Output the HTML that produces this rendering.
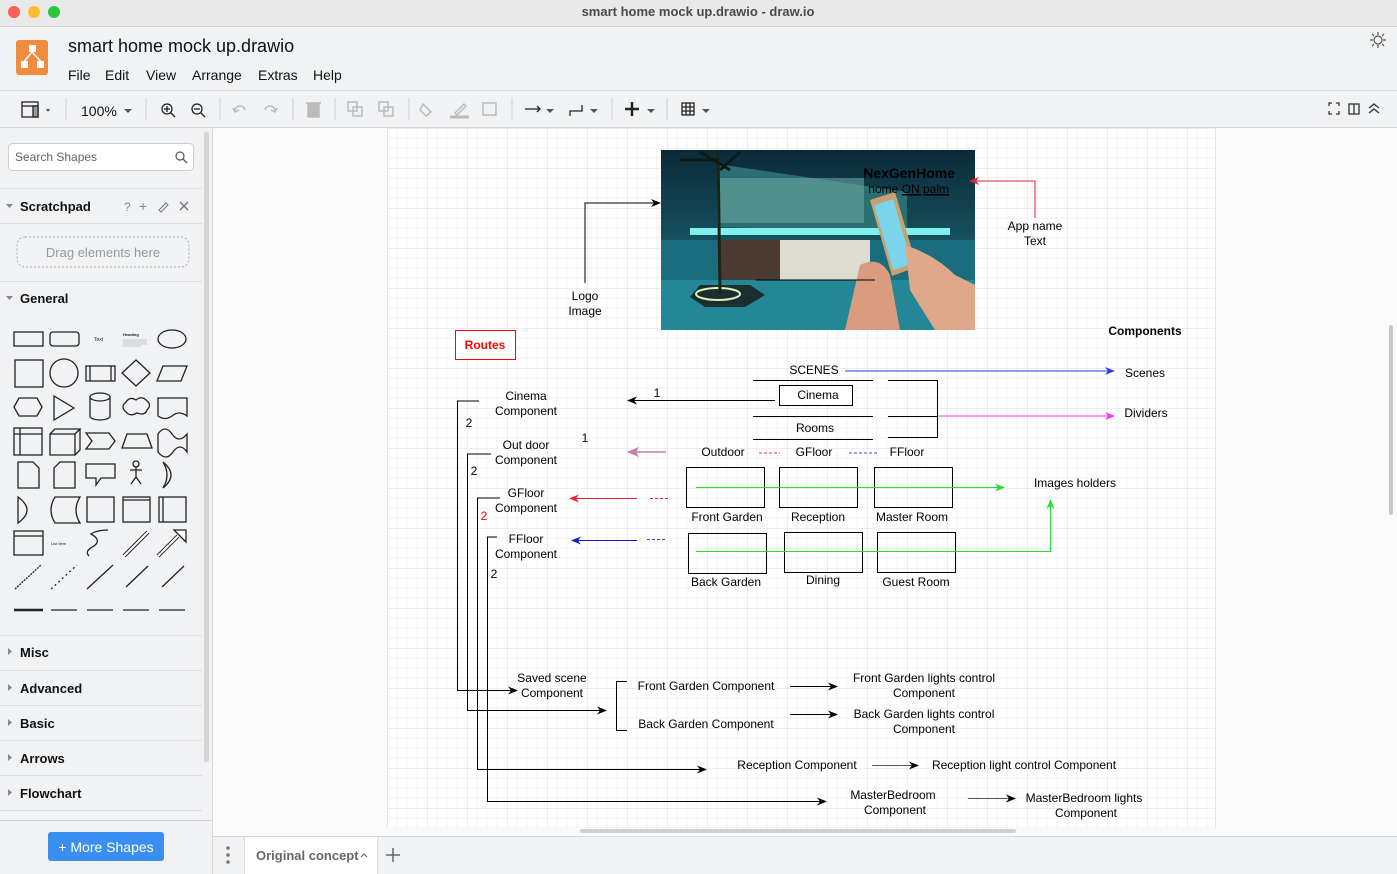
<!DOCTYPE html>
<html><head><meta charset="utf-8"><style>
html,body{margin:0;padding:0;width:1397px;height:874px;overflow:hidden;background:#fff;font-family:"Liberation Sans",Arial,sans-serif}
svg{display:block}
</style></head><body>
<svg width="1397" height="874" viewBox="0 0 1397 874" xmlns="http://www.w3.org/2000/svg" font-family="Liberation Sans, Arial, sans-serif">
<defs>
<pattern id="g" x="387" y="128" width="40" height="40" patternUnits="userSpaceOnUse">
<path d="M10 0V40M20 0V40M30 0V40M0 10H40M0 20H40M0 30H40" stroke="#f0f0f0" stroke-width="1"/>
<path d="M0 0V40M0 0H40" stroke="#dedede" stroke-width="1"/>
</pattern>
<marker id="ab" markerWidth="10" markerHeight="8" refX="9" refY="4" orient="auto" markerUnits="userSpaceOnUse"><path d="M0 0L10 4L0 8L3 4Z" fill="#000"/></marker>
<marker id="ar" markerWidth="10" markerHeight="8" refX="9" refY="4" orient="auto" markerUnits="userSpaceOnUse"><path d="M0 0L10 4L0 8L3 4Z" fill="#f0203a"/></marker>
<marker id="abl" markerWidth="10" markerHeight="8" refX="9" refY="4" orient="auto" markerUnits="userSpaceOnUse"><path d="M0 0L10 4L0 8L3 4Z" fill="#2a3ef0"/></marker>
<marker id="abd" markerWidth="10" markerHeight="8" refX="9" refY="4" orient="auto" markerUnits="userSpaceOnUse"><path d="M0 0L10 4L0 8L3 4Z" fill="#1020c0"/></marker>
<marker id="am" markerWidth="10" markerHeight="8" refX="9" refY="4" orient="auto" markerUnits="userSpaceOnUse"><path d="M0 0L10 4L0 8L3 4Z" fill="#ff33ff"/></marker>
<marker id="ag" markerWidth="10" markerHeight="8" refX="9" refY="4" orient="auto" markerUnits="userSpaceOnUse"><path d="M0 0L10 4L0 8L3 4Z" fill="#22dd33"/></marker>
<marker id="ap" markerWidth="12" markerHeight="10" refX="11" refY="5" orient="auto" markerUnits="userSpaceOnUse"><path d="M0 0L12 5L0 10L3 5Z" fill="#c080a8"/></marker>
<linearGradient id="sky" x1="0" y1="0" x2="0" y2="1"><stop offset="0" stop-color="#0b2a38"/><stop offset="0.5" stop-color="#17505e"/><stop offset="1" stop-color="#1b7f8e"/></linearGradient>
</defs>

<!-- title bar -->
<rect x="0" y="0" width="1397" height="27" fill="#e9e9e9"/>
<line x1="0" y1="26.5" x2="1397" y2="26.5" stroke="#d0d0d0"/>
<circle cx="14" cy="12" r="6" fill="#fe5f57"/><circle cx="34" cy="12" r="6" fill="#febc2e"/><circle cx="54" cy="12" r="6" fill="#28c840"/>
<text x="698" y="16" font-size="13" font-weight="bold" fill="#4a4a4a" text-anchor="middle">smart home mock up.drawio - draw.io</text>
<!-- header -->
<rect x="0" y="27" width="1397" height="63" fill="#f1f2f4"/>
<rect x="16" y="40" width="32" height="35" rx="3" fill="#f08c3e"/>
<rect x="29" y="45" width="7" height="7" fill="#fff"/><rect x="21" y="61" width="7" height="7" fill="#fff"/><rect x="37" y="61" width="7" height="7" fill="#fff"/>
<path d="M32 52L24.5 61M32 52L40.5 61" stroke="#fff" stroke-width="1.5"/>
<text x="68" y="52" font-size="18" fill="#111">smart home mock up.drawio</text>
<g font-size="14" fill="#111"><text x="68" y="80">File</text><text x="105" y="80">Edit</text><text x="146" y="80">View</text><text x="192" y="80">Arrange</text><text x="258" y="80">Extras</text><text x="313" y="80">Help</text></g>
<circle cx="1378" cy="40" r="4" fill="none" stroke="#555" stroke-width="1.2"/>
<path d="M1378 32v3M1378 45v3M1370 40h3M1383 40h3M1372 34l2 2M1382 44l2 2M1372 46l2-2M1382 36l2-2" stroke="#555" stroke-width="1.2"/>
<!-- toolbar -->
<rect x="0" y="90" width="1397" height="38" fill="#f1f2f4"/>
<line x1="0" y1="90.5" x2="1397" y2="90.5" stroke="#dcdcdc"/>
<line x1="0" y1="127.5" x2="1397" y2="127.5" stroke="#d4d4d4"/>
<g stroke="#222" fill="none" stroke-width="1.3">
<rect x="22" y="102" width="16" height="15"/><line x1="22" y1="106" x2="38" y2="106"/><rect x="33" y="106" width="5" height="11" fill="#999"/>
<circle cx="167" cy="109" r="5"/><line x1="171" y1="113" x2="175" y2="117"/><line x1="164" y1="109" x2="170" y2="109"/><line x1="167" y1="106" x2="167" y2="112"/>
<circle cx="197" cy="109" r="5"/><line x1="201" y1="113" x2="205" y2="117"/><line x1="194" y1="109" x2="200" y2="109"/>
</g>
<g fill="#555"><path d="M46 109l4 0-2 3z"/><path d="M124 109l8 0-4 4z"/><path d="M546 109l8 0-4 4z"/><path d="M590 109l8 0-4 4z"/><path d="M647 109l8 0-4 4z"/><path d="M702 109l8 0-4 4z"/></g>
<text x="81" y="116" font-size="14" fill="#111">100%</text>
<g stroke="#bbb" fill="none" stroke-width="1.5">
<path d="M235 112a5 5 0 0 1 10 -2M233 108l2 4 4-2"/><path d="M275 112a5 5 0 0 0 -10 -2M277 108l-2 4-4-2"/>
<rect x="308" y="104" width="11" height="13" fill="#bbb"/><line x1="306" y1="103" x2="321" y2="103"/>
<rect x="348" y="102" width="9" height="9"/><rect x="353" y="107" width="9" height="9"/>
<rect x="379" y="102" width="9" height="9"/><rect x="384" y="107" width="9" height="9"/>
<path d="M423 104l8 8-5 4-6-6z"/><line x1="450" y1="117" x2="469" y2="117" stroke-width="3"/><path d="M455 113l9-9 2 2-9 9z"/>
<rect x="483" y="103" width="13" height="12"/>
</g>
<g stroke="#222" fill="none" stroke-width="1.3"><line x1="525" y1="109" x2="540" y2="109"/><path d="M537 106l3 3-3 3"/>
<path d="M570 116v-5h12v-6"/><line x1="632" y1="102" x2="632" y2="116" stroke-width="2.5"/><line x1="625" y1="109" x2="639" y2="109" stroke-width="2.5"/>
<rect x="682" y="103" width="12" height="12"/><path d="M686 103v12M690 103v12M682 107h12M682 111h12"/></g>
<g stroke="#d0d0d0"><line x1="66" y1="98" x2="66" y2="120"/><line x1="146" y1="98" x2="146" y2="120"/><line x1="220" y1="98" x2="220" y2="120"/><line x1="293" y1="98" x2="293" y2="120"/><line x1="335" y1="98" x2="335" y2="120"/><line x1="409" y1="98" x2="409" y2="120"/><line x1="512" y1="98" x2="512" y2="120"/><line x1="612" y1="98" x2="612" y2="120"/><line x1="667" y1="98" x2="667" y2="120"/></g>
<g stroke="#333" fill="none" stroke-width="1.3"><path d="M1329 106v-3h3M1336 103h3v3M1339 111v3h-3M1332 114h-3v-3"/><rect x="1349" y="104" width="10" height="10"/><line x1="1354" y1="104" x2="1354" y2="114"/><path d="M1369 108l5-4 5 4M1369 113l5-4 5 4"/></g>

<!-- sidebar -->
<rect x="0" y="128" width="212" height="746" fill="#f1f2f4"/>
<rect x="204" y="132" width="5" height="630" rx="2" fill="#d6d6d6"/>
<line x1="212.5" y1="128" x2="212.5" y2="874" stroke="#d8d8d8"/>
<rect x="8.5" y="143.5" width="185" height="27" rx="4" fill="#fff" stroke="#ccc"/>
<text x="15" y="161" font-size="12" fill="#666">Search Shapes</text>
<circle cx="180" cy="156" r="4" fill="none" stroke="#555" stroke-width="1.2"/><line x1="183" y1="159" x2="187" y2="163" stroke="#555" stroke-width="1.3"/>
<line x1="0" y1="188.5" x2="202" y2="188.5" stroke="#dcdcdc"/>
<path d="M6 204l7 0-3.5 4z" fill="#888"/>
<text x="20" y="211" font-size="13" font-weight="bold" fill="#111">Scratchpad</text>
<text x="124" y="211" font-size="12" fill="#888">?</text><text x="139" y="211" font-size="14" fill="#888">+</text>
<path d="M159 210l7-7 2 2-7 7z" fill="none" stroke="#777"/><path d="M180 202l8 8M188 202l-8 8" stroke="#777" stroke-width="1.4"/>
<line x1="0" y1="223.5" x2="202" y2="223.5" stroke="#dcdcdc"/>
<rect x="17" y="237" width="172" height="30" rx="8" fill="none" stroke="#aaa" stroke-dasharray="2 2"/>
<text x="103" y="257" font-size="13" fill="#999" text-anchor="middle">Drag elements here</text>
<line x1="0" y1="281.5" x2="202" y2="281.5" stroke="#dcdcdc"/>
<path d="M6 296l7 0-3.5 4z" fill="#888"/>
<text x="20" y="303" font-size="13" font-weight="bold" fill="#111">General</text>
<g stroke="#222" fill="none" stroke-width="1.3">
<rect x="14" y="332" width="29" height="14"/><rect x="50" y="332" width="29" height="14" rx="3"/>
<ellipse cx="172" cy="339" rx="14" ry="9"/>
<rect x="15" y="360" width="28" height="27"/><circle cx="64" cy="373" r="14"/><rect x="86" y="366" width="29" height="15"/><path d="M90 366v15M111 366v15"/>
<path d="M136 360l14 13-14 13-14-13z"/><path d="M163 366h24l-6 15h-24z"/>
<path d="M19 398h18l5 9-5 9h-18l-5-9z"/><path d="M54 396v24l20-12z"/><path d="M90 397v19a10 4 0 0 0 20 0v-19a10 4 0 0 0-20 0a10 4 0 0 0 20 0"/>
<path d="M126 402q4-6 10-2q6-5 11 1q5 4 0 9q-2 6-10 3q-7 4-11-1q-6-5 0-10z"/><path d="M158 398h29v18q-8-6-15 0q-7 5-14 0z"/>
<rect x="14" y="428" width="28" height="27"/><path d="M14 434h28M20 428v27"/><path d="M50 434h25v21h-25zM50 434l5-5h25l-5 5M80 429v21l-5 5"/>
<path d="M86 433h23l6 8-6 8h-23l6-8z"/><path d="M127 434h20l5 14h-30z"/><path d="M158 434q7-10 14 0t15 0v18q-7-10-14 0t-15 0z"/>
<path d="M18 462h15l6 6v20h-21z"/><path d="M60 462h15v26h-21v-20z"/><path d="M86 464h29v14h-14l-5 7v-7h-10z"/>
<circle cx="136" cy="464" r="3"/><path d="M136 467v10M130 470h12M136 477l-5 7M136 477l5 7"/><path d="M163 462q16 13 0 26q8-13 0-26z"/>
<path d="M18 497q18 13 0 26z"/><path d="M55 497h25q-8 13 0 26h-25q-8-13 0-26z"/><rect x="87" y="497" width="27" height="25"/><rect x="123" y="497" width="27" height="25"/><path d="M123 500h27"/><rect x="159" y="497" width="27" height="25"/><path d="M163 497v25"/>
<rect x="14" y="531" width="29" height="24"/><path d="M14 536h29"/>
<path d="M89 556q-5-5 5-10q8-6-3-12q6-4 17-4"/><path d="M124 556l24-24" stroke-width="4"/><path d="M124 556l24-24" stroke="#fff" stroke-width="2"/>
<path d="M158 556l20-20" stroke-width="4"/><path d="M158 556l20-20" stroke="#fff" stroke-width="2"/><path d="M174 530h12v12z" fill="#fff"/>
<path d="M15 589l26-24" stroke-dasharray="2 1"/><path d="M51 589l26-24" stroke-dasharray="2 3"/><path d="M87 589l26-24"/><path d="M126 587l22-21"/><path d="M162 587l22-21"/>
<path d="M14 610h29" stroke-width="2.5"/><path d="M51 610h26"/><path d="M87 610h26"/><path d="M123 610h26"/><path d="M159 610h26"/>
</g>
<text x="94" y="341" font-size="5" fill="#222">Text</text>
<text x="123" y="336" font-size="4" font-weight="bold" fill="#222">Heading</text>
<path d="M123 340h24M123 342h24M123 344h24M123 346h18" stroke="#999" stroke-width="0.6"/>
<text x="51" y="545" font-size="4" fill="#222">List Item</text>
<g stroke="#dcdcdc"><line x1="0" y1="635.5" x2="202" y2="635.5"/><line x1="0" y1="670.5" x2="202" y2="670.5"/><line x1="0" y1="705.5" x2="202" y2="705.5"/><line x1="0" y1="740.5" x2="202" y2="740.5"/><line x1="0" y1="775.5" x2="202" y2="775.5"/><line x1="0" y1="810.5" x2="202" y2="810.5"/><line x1="0" y1="820.5" x2="212" y2="820.5" stroke="#d0d0d0"/></g>
<g fill="#888"><path d="M8 648v7l4-3.5z"/><path d="M8 684v7l4-3.5z"/><path d="M8 719v7l4-3.5z"/><path d="M8 754v7l4-3.5z"/><path d="M8 789v7l4-3.5z"/></g>
<g font-size="13" font-weight="bold" fill="#111"><text x="20" y="657">Misc</text><text x="20" y="693">Advanced</text><text x="20" y="728">Basic</text><text x="20" y="763">Arrows</text><text x="20" y="798">Flowchart</text></g>
<rect x="48" y="832" width="116" height="29" rx="3" fill="#3a8ef0"/>
<text x="106" y="852" font-size="14" fill="#fff" text-anchor="middle">+ More Shapes</text>

<!-- canvas -->
<rect x="213" y="128" width="1184" height="708" fill="#fafafa"/>
<rect x="387" y="128" width="828" height="700" fill="#fff"/>
<rect x="387" y="128" width="828" height="700" fill="url(#g)"/>
<line x1="387.5" y1="128" x2="387.5" y2="828" stroke="#e6e6e6"/><line x1="1215.5" y1="128" x2="1215.5" y2="828" stroke="#e6e6e6"/>
<rect x="1389" y="325" width="4" height="190" rx="2" fill="#c8c8c8"/>
<rect x="580" y="829" width="436" height="4" rx="2" fill="#d0d0d0"/>
<!-- bottom tab bar -->
<rect x="213" y="836" width="1184" height="38" fill="#f1f2f4"/>
<line x1="213" y1="836.5" x2="1397" y2="836.5" stroke="#d6d6d6"/>
<g fill="#777"><circle cx="228" cy="848" r="1.8"/><circle cx="228" cy="855" r="1.8"/><circle cx="228" cy="862" r="1.8"/></g>
<rect x="244" y="837" width="133" height="37" fill="#fff"/>
<line x1="244.5" y1="837" x2="244.5" y2="874" stroke="#ddd"/><line x1="377.5" y1="837" x2="377.5" y2="874" stroke="#ddd"/>
<text x="256" y="860" font-size="13" font-weight="bold" fill="#666">Original concept</text>
<path d="M361 857l3-3 3 3" fill="none" stroke="#666" stroke-width="1.2"/>
<path d="M393 848v14M386 855h14" stroke="#666" stroke-width="1.5"/>

<!-- image -->
<rect x="661" y="150" width="314" height="180" fill="url(#sky)"/>
<path d="M661 240h314v90h-314z" fill="#1a6d7d"/>
<path d="M661 280h314v50h-314z" fill="#2a9aa8" opacity="0.6"/>
<path d="M717 164l190 28 0 40-190 -5z" fill="#2c6f73"/>
<path d="M719 178h145v45h-145z" fill="#6aa6a0" opacity="0.6"/>
<path d="M690 228h260v7h-260z" fill="#7ef0f0"/>
<path d="M720 240h150v40h-150z" fill="#4a3a30"/>
<path d="M780 240h90v40h-90z" fill="#dcdcd0"/>
<path d="M700 285l50 0 15 10-20 12h-40l-15-10z" fill="#1b2e2e"/>
<ellipse cx="718" cy="294" rx="22" ry="6" fill="none" stroke="#e0f0c0" stroke-width="2"/>
<line x1="718" y1="150" x2="720" y2="294" stroke="#1a2418" stroke-width="3"/>
<path d="M700 152l30 18M740 152l-20 18M680 160l38 0" stroke="#0d1a12" stroke-width="3"/>
<path d="M870 200l25-8 22 75-25 9z" fill="#c9a070"/><path d="M874 205l19-6 19 65-19 6z" fill="#7ad4ec"/>
<path d="M860 265q20-10 30 10l10 55h-55z" fill="#d99c7e"/>
<path d="M905 245q30 10 50 30l20 10v45h-40l-25-40z" fill="#e0a88a"/>
<line x1="756" y1="280" x2="875" y2="280" stroke="#000" stroke-width="1"/>
<text x="955" y="178" font-size="14" font-weight="bold" fill="#000" text-anchor="end">NexGenHome</text>
<text x="949" y="193" font-size="12" fill="#000" text-anchor="end">home <tspan text-decoration="underline">ON</tspan> <tspan text-decoration="underline">palm</tspan></text>
<line x1="902" y1="195" x2="922" y2="195" stroke="#000"/><line x1="925" y1="195" x2="950" y2="195" stroke="#000"/>

<!-- diagram -->
<g font-size="12" fill="#000" text-anchor="middle">
<path d="M585 283V203H660" fill="none" stroke="#000" marker-end="url(#ab)"/>
<text x="585" y="300">Logo</text><text x="585" y="315">Image</text>
<path d="M1035 218V181H970" fill="none" stroke="#e0203a" marker-end="url(#ar)"/>
<text x="1035" y="230">App name</text><text x="1035" y="245">Text</text>
<text x="1145" y="335" font-weight="bold">Components</text>
<rect x="455.5" y="330.5" width="60" height="29" fill="#fff" stroke="#ff0000"/>
<text x="485" y="349" font-weight="bold" fill="#ff0000">Routes</text>
<text x="814" y="374">SCENES</text>
<line x1="845" y1="371" x2="1114" y2="371" stroke="#2a3ef0" marker-end="url(#abl)"/>
<text x="1145" y="377">Scenes</text>
<g stroke="#000"><line x1="753" y1="380.5" x2="873" y2="380.5"/><line x1="753" y1="416.5" x2="873" y2="416.5"/><line x1="753" y1="439.5" x2="873" y2="439.5"/>
<path d="M888 380.5H937.5V437.5H888M888 416.5H937" fill="none"/></g>
<rect x="779.5" y="385.5" width="73" height="20" fill="#fff" stroke="#000"/>
<text x="818" y="399">Cinema</text>
<line x1="938" y1="416" x2="1114" y2="416" stroke="#ff33ff" marker-end="url(#am)"/>
<text x="1146" y="417">Dividers</text>
<text x="815" y="432">Rooms</text>
<line x1="775" y1="400.5" x2="628" y2="400.5" stroke="#000" marker-end="url(#ab)"/>
<text x="657" y="397">1</text><text x="585" y="442">1</text>
<text x="723" y="456">Outdoor</text><text x="814" y="456">GFloor</text><text x="907" y="456">FFloor</text>
<line x1="759" y1="453" x2="780" y2="453" stroke="#f03040" stroke-dasharray="3 2"/>
<line x1="849" y1="453" x2="878" y2="453" stroke="#3040e0" stroke-dasharray="3 2"/>
<line x1="666" y1="452" x2="628" y2="452" stroke="#c080a8" stroke-width="1.5" marker-end="url(#ap)"/>
<g fill="none" stroke="#000"><rect x="686.5" y="467.5" width="78" height="40"/><rect x="779.5" y="467.5" width="78" height="40"/><rect x="874.5" y="467.5" width="78" height="40"/>
<rect x="688.5" y="533.5" width="78" height="40"/><rect x="784.5" y="532.5" width="78" height="40"/><rect x="877.5" y="532.5" width="78" height="40"/></g>
<text x="727" y="521">Front Garden</text><text x="818" y="521">Reception</text><text x="912" y="521">Master Room</text>
<text x="726" y="586">Back Garden</text><text x="823" y="584">Dining</text><text x="916" y="586">Guest Room</text>
<line x1="696" y1="487.5" x2="1004" y2="487.5" stroke="#22dd33" marker-end="url(#ag)"/>
<path d="M696 551.5H1050.5V500" fill="none" stroke="#22dd33" marker-end="url(#ag)"/>
<text x="1075" y="487">Images holders</text>
<line x1="637" y1="498.5" x2="570" y2="498.5" stroke="#f0203a" marker-end="url(#ar)"/>
<line x1="650" y1="498.5" x2="670" y2="498.5" stroke="#f0203a" stroke-dasharray="3 2"/>
<line x1="637" y1="540.5" x2="572" y2="540.5" stroke="#1020c0" marker-end="url(#abd)"/>
<line x1="647" y1="539.5" x2="667" y2="539.5" stroke="#3040e0" stroke-dasharray="3 2"/>
<text x="526" y="400">Cinema</text><text x="526" y="415">Component</text>
<text x="526" y="449">Out door</text><text x="526" y="464">Component</text>
<text x="526" y="497">GFloor</text><text x="526" y="512">Component</text>
<text x="526" y="543">FFloor</text><text x="526" y="558">Component</text>
<g fill="none" stroke="#000">
<path d="M479 401H457.5V690.5H517" marker-end="url(#ab)"/>
<path d="M491 454H467.5V710.5H606" marker-end="url(#ab)"/>
<path d="M500 498H477.5V769.5H706" marker-end="url(#ab)"/>
<path d="M497 537H487.5V801.5H826" marker-end="url(#ab)"/>
</g>
<text x="469" y="427">2</text><text x="474" y="475">2</text><text x="484" y="520" fill="#ff0000">2</text><text x="494" y="578">2</text>
<text x="552" y="682">Saved scene</text><text x="552" y="697">Component</text>
<path d="M627 681.5H616.5V730.5H627" fill="none" stroke="#000"/>
<text x="706" y="690">Front Garden Component</text><text x="706" y="728">Back Garden Component</text>
<line x1="790" y1="686.5" x2="837" y2="686.5" stroke="#000" marker-end="url(#ab)"/>
<line x1="790" y1="714.5" x2="837" y2="714.5" stroke="#000" marker-end="url(#ab)"/>
<text x="924" y="682">Front Garden lights control</text><text x="924" y="697">Component</text>
<text x="924" y="718">Back Garden lights control</text><text x="924" y="733">Component</text>
<text x="797" y="769">Reception Component</text>
<line x1="872" y1="765.5" x2="918" y2="765.5" stroke="#555" marker-end="url(#ab)"/>
<text x="1024" y="769">Reception light control Component</text>
<text x="893" y="799">MasterBedroom</text><text x="895" y="814">Component</text>
<line x1="968" y1="798.5" x2="1015" y2="798.5" stroke="#555" marker-end="url(#ab)"/>
<text x="1084" y="802">MasterBedroom lights</text><text x="1086" y="817">Component</text>
</g>
</svg>
</body></html>
